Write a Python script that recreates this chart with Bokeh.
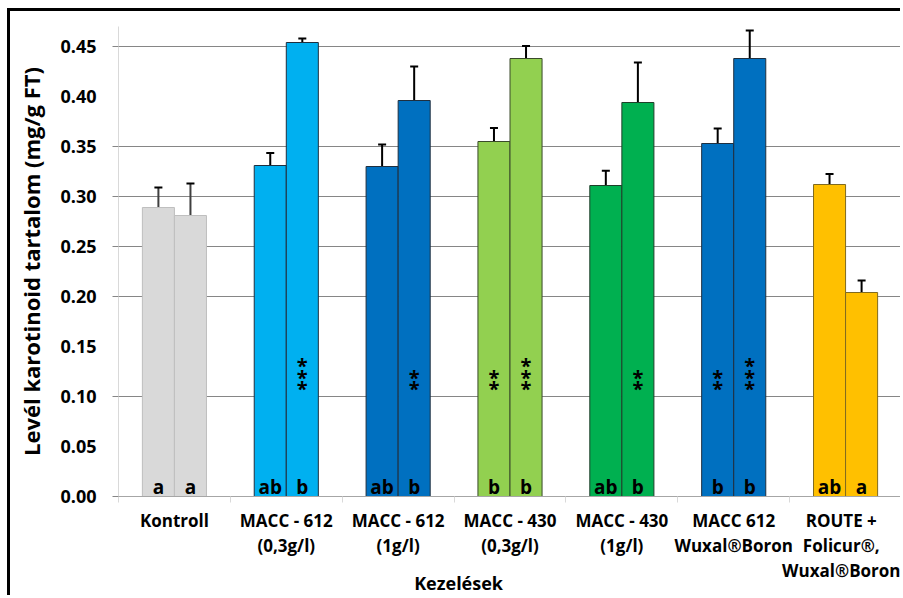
from bokeh.plotting import figure
from bokeh.models import (FixedTicker, Range1d, ColumnDataSource, Whisker, TeeHead,
                          NumeralTickFormatter)
from bokeh.core.properties import value
from bokeh.embed import file_html
from bokeh.resources import INLINE

# ---------------- data ----------------
categories = ["Kontroll", "MACC - 612\n(0,3g/l)", "MACC - 612\n(1g/l)",
              "MACC - 430\n(0,3g/l)", "MACC - 430\n(1g/l)",
              "MACC 612\nWuxal®Boron", "ROUTE +\nFolicur®,\nWuxal®Boron"]
values_1 = [0.289, 0.331, 0.330, 0.355, 0.311, 0.353, 0.312]
values_2 = [0.281, 0.454, 0.396, 0.438, 0.394, 0.438, 0.204]
errors_1 = [0.020, 0.0125, 0.022, 0.0135, 0.0147, 0.015, 0.0105]
errors_2 = [0.032, 0.004, 0.034, 0.0125, 0.040, 0.028, 0.012]
letters_1 = ["a", "ab", "ab", "b", "ab", "b", "ab"]
letters_2 = ["a", "b", "b", "b", "b", "b", "a"]
stars_1 = ["", "", "", "**", "", "**", ""]
stars_2 = ["", "***", "**", "***", "**", "***", ""]
y_ticks = [0.00, 0.05, 0.10, 0.15, 0.20, 0.25, 0.30, 0.35, 0.40, 0.45]
y_grid_visible = [0.10, 0.20, 0.25, 0.30, 0.35, 0.45]
x_title = "Kezelések"
y_title = "Levél karotinoid tartalom (mg/g FT)"

# ---------------- styles ----------------
bar_colors = ["#D9D9D9", "#00B0F0", "#0070C0", "#92D050", "#00B050", "#0070C0", "#FFC000"]
edge_colors = ["#BFBFBF", "#1F2F3F", "#1F2F3F", "#3A4A2A", "#1F3F2A", "#1F2F3F", "#7F6A20"]
err_colors = ["#404040"] + ["black"] * 6
FONT = "Open Sans"
OFFSET = 0.1433
BAR_W = 0.2865
LETTER_Y = 0.010
STAR_Y0 = 0.113
STAR_STEP = 0.0115
X_TITLE_PAD = "\u00a0" * 22   # shifts the centred x title to the left, as in the original

n = len(categories)
centers = [i + 0.5 for i in range(n)]
x1 = [c - OFFSET for c in centers]
x2 = [c + OFFSET for c in centers]

p = figure(width=893, height=587, output_backend="svg", toolbar_location=None,
           x_range=Range1d(0, n), y_range=Range1d(0, 0.47),
           min_border_left=108, min_border_right=2, min_border_top=15,
           min_border_bottom=102)
p.styles = {"margin-left": "7px", "margin-top": "8px",
            "border-left": "3px solid black", "border-top": "3px solid black"}
p.outline_line_color = None
p.background_fill_color = "white"

bars = ColumnDataSource(dict(
    x=x1 + x2, top=values_1 + values_2,
    color=bar_colors + bar_colors, edge=edge_colors + edge_colors,
    upper=[v + e for v, e in zip(values_1 + values_2, errors_1 + errors_2)],
    lower=[v - e for v, e in zip(values_1 + values_2, errors_1 + errors_2)],
    ecol=err_colors + err_colors,
    letter=letters_1 + letters_2,
))

p.vbar(x="x", top="top", bottom=0, width=BAR_W, source=bars,
       fill_color="color", line_color="edge", line_width=1)

wh = Whisker(base="x", upper="upper", lower="lower", source=bars,
             line_color="ecol", line_width=2,
             upper_head=TeeHead(size=8, line_width=2, line_color="black"),
             lower_head=TeeHead(size=8, line_width=2, line_color="black"))
p.add_layout(wh)

p.text(x="x", y=LETTER_Y, text="letter", source=bars, text_align="center",
       text_baseline="alphabetic", text_font=value(FONT), text_font_style="bold",
       text_font_size="19px", text_color="black")

sx, sy = [], []
for xs, ss in ((x1, stars_1), (x2, stars_2)):
    for xv, s in zip(xs, ss):
        for k in range(len(s)):
            sx.append(xv)
            sy.append(STAR_Y0 + k * STAR_STEP)
p.text(x=sx, y=sy, text=["*"] * len(sx), text_align="center",
       text_baseline="middle", text_font=value(FONT), text_font_style="bold",
       text_font_size="20px", text_color="black", y_offset=5)

# axes
xa = p.xaxis[0]
xa.ticker = FixedTicker(ticks=centers, minor_ticks=list(range(n + 1)))
xa.major_label_overrides = {c: lab for c, lab in zip(centers, categories)}
xa.major_tick_out = 0
xa.major_tick_in = 0
xa.minor_tick_out = 6
xa.minor_tick_in = 0
xa.minor_tick_line_color = "#D9D9D9"
xa.axis_line_color = "#A6A6A6"
xa.major_label_standoff = 6
xa.major_label_text_font = FONT
xa.major_label_text_font_style = "bold"
xa.major_label_text_font_size = "17px"
xa.major_label_text_color = "black"
xa.major_label_text_line_height = 1.1
xa.axis_label = x_title + X_TITLE_PAD
xa.axis_label_text_font = FONT
xa.axis_label_text_font_style = "bold"
xa.axis_label_text_font_size = "18px"
xa.axis_label_text_color = "black"
xa.axis_label_standoff = -14

ya = p.yaxis[0]
ya.ticker = FixedTicker(ticks=y_ticks, minor_ticks=y_grid_visible + [0.0])
ya.formatter = NumeralTickFormatter(format="0.00")
ya.major_tick_out = 0
ya.major_tick_in = 0
ya.minor_tick_out = 6
ya.minor_tick_in = 0
ya.minor_tick_line_color = "#868686"
ya.axis_line_color = "#D9D9D9"
ya.major_label_standoff = 16
ya.major_label_text_font = FONT
ya.major_label_text_font_style = "bold"
ya.major_label_text_font_size = "18px"
ya.major_label_text_color = "black"
ya.axis_label = y_title
ya.axis_label_text_font = FONT
ya.axis_label_text_font_style = "bold"
ya.axis_label_text_font_size = "22px"
ya.axis_label_text_color = "black"
ya.axis_label_standoff = 11

p.xgrid.visible = False
p.ygrid[0].ticker = FixedTicker(ticks=y_grid_visible)
p.ygrid.grid_line_color = "#868686"
p.ygrid.grid_line_width = 1

open("out.html", "w").write(file_html(p, INLINE))
